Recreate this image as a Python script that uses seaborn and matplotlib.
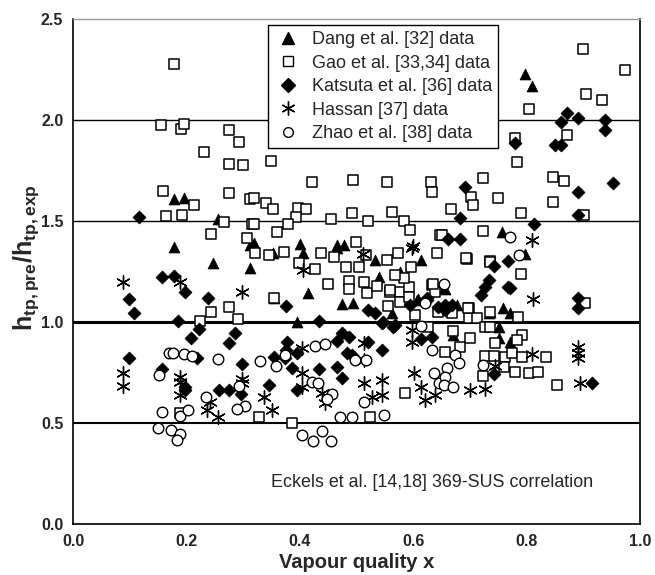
import numpy as np
import pandas as pd
import seaborn as sns
import matplotlib
matplotlib.use("Agg")
import matplotlib.pyplot as plt
from matplotlib.lines import Line2D

sns.set_style("white")
plt.rcParams['font.family'] = ['Liberation Sans', 'DejaVu Sans']
plt.rcParams['mathtext.fontset'] = 'custom'
plt.rcParams['mathtext.rm'] = 'Liberation Sans'
plt.rcParams['mathtext.bf'] = 'Liberation Sans:bold'

# ---------------- data ----------------
dang_x = [0.178, 0.196, 0.256, 0.178, 0.313, 0.320, 0.400, 0.466, 0.478, 0.797, 0.810, 0.757,
          0.247, 0.312, 0.539, 0.577, 0.613, 0.533, 0.414, 0.354, 0.474, 0.494, 0.608, 0.563,
          0.395, 0.798, 0.654, 0.677, 0.733, 0.758, 0.771, 0.671, 0.751, 0.751, 0.771, 0.656,
          0.735, 0.606, 0.353, 0.406, 0.465]
dang_y = [1.610, 1.615, 1.510, 1.370, 1.380, 1.390, 1.385, 1.380, 1.380, 2.230, 2.170, 1.447,
          1.294, 1.267, 1.225, 1.249, 1.307, 1.307, 1.142, 1.117, 1.088, 1.093, 1.114, 1.043,
          1.000, 1.337, 1.170, 1.084, 1.043, 1.068, 1.043, 0.936, 0.974, 0.919, 0.902, 1.162,
          1.051, 1.109, 1.340, 1.340, 1.365]

gao_x = [0.178, 0.156, 0.190, 0.195, 0.275, 0.292, 0.231, 0.275, 0.300, 0.159, 0.275, 0.313,
         0.214, 0.164, 0.192, 0.267, 0.316, 0.243, 0.306,
         0.349, 0.422, 0.493, 0.553, 0.631, 0.633, 0.320, 0.340, 0.352, 0.397, 0.411, 0.394,
         0.379, 0.320, 0.359, 0.455, 0.492, 0.521, 0.563, 0.584, 0.595, 0.648, 0.499,
         0.900, 0.974, 0.905, 0.933, 0.805, 0.871, 0.780, 0.784, 0.724, 0.847, 0.866, 0.702,
         0.705, 0.750, 0.847, 0.666, 0.791, 0.902, 0.724, 0.650,
         0.243, 0.275, 0.291, 0.224, 0.188,
         0.346, 0.373, 0.438, 0.460, 0.482, 0.504, 0.516, 0.554, 0.574, 0.597, 0.642, 0.398,
         0.427, 0.450, 0.487, 0.487, 0.513, 0.518, 0.536, 0.560, 0.577, 0.577, 0.593, 0.593,
         0.633, 0.639, 0.584, 0.354, 0.556, 0.604, 0.626,
         0.328, 0.387, 0.524, 0.585,
         0.695, 0.736, 0.790, 0.903, 0.668, 0.698, 0.698, 0.712, 0.736, 0.785, 0.726, 0.736,
         0.792, 0.783, 0.700, 0.683, 0.657, 0.671, 0.745, 0.727, 0.743, 0.762, 0.774, 0.792,
         0.834, 0.760, 0.780, 0.805, 0.821, 0.724, 0.854, 0.635, 0.694, 0.735, 0.568, 0.559,
         0.697, 0.644, 0.321]
gao_y = [2.280, 1.975, 1.955, 1.980, 1.950, 1.890, 1.840, 1.785, 1.780, 1.650, 1.637, 1.610,
         1.578, 1.523, 1.530, 1.494, 1.485, 1.436, 1.414,
         1.800, 1.696, 1.703, 1.696, 1.693, 1.644, 1.614, 1.590, 1.558, 1.566, 1.558, 1.521,
         1.485, 1.487, 1.447, 1.508, 1.541, 1.498, 1.546, 1.500, 1.455, 1.430, 1.398,
         2.350, 2.250, 2.130, 2.100, 2.056, 1.928, 1.910, 1.792, 1.711, 1.720, 1.698, 1.620,
         1.578, 1.615, 1.596, 1.561, 1.538, 1.530, 1.449, 1.430,
         1.050, 1.076, 1.015, 1.005, 0.550,
         1.332, 1.348, 1.343, 1.323, 1.274, 1.274, 1.332, 1.307, 1.340, 1.274, 1.340, 1.290,
         1.265, 1.190, 1.205, 1.162, 1.200, 1.145, 1.178, 1.150, 1.150, 1.100, 1.175, 1.126,
         1.183, 1.150, 1.216, 1.117, 1.080, 1.035, 0.977,
         0.531, 0.500, 0.531, 0.647,
         1.312, 1.300, 1.238, 1.096, 1.043, 1.068, 1.019, 1.019, 1.051, 1.026, 0.974, 0.974,
         0.936, 0.911, 0.919, 0.878, 0.853, 0.955, 0.895, 0.832, 0.832, 0.828, 0.845, 0.828,
         0.828, 0.779, 0.754, 0.746, 0.754, 0.733, 0.688, 1.190, 1.315, 1.298, 1.233, 1.158,
         1.068, 1.051, 1.340]

kat_x = [0.117, 0.872, 0.860, 0.890, 0.939, 0.939, 0.780, 0.850, 0.860, 0.692, 0.890, 0.952,
         0.682, 0.890, 0.813, 0.661, 0.682,
         0.157, 0.178, 0.197, 0.098, 0.238, 0.107, 0.186, 0.223, 0.285, 0.275, 0.208, 0.098,
         0.218, 0.157, 0.197, 0.197, 0.298, 0.257, 0.276, 0.296,
         0.376, 0.521, 0.533, 0.433, 0.545, 0.564, 0.613, 0.633, 0.624,
         0.474, 0.486, 0.466, 0.521, 0.545, 0.483, 0.492, 0.377, 0.376, 0.395, 0.354, 0.374,
         0.386, 0.433, 0.466, 0.474, 0.345, 0.395,
         0.742, 0.768, 0.733, 0.727, 0.720, 0.771, 0.890, 0.890, 0.657, 0.742, 0.915,
         0.625, 0.644, 0.656, 0.668, 0.594, 0.547, 0.568, 0.768]
kat_y = [1.518, 2.033, 1.990, 2.010, 2.003, 1.950, 1.885, 1.876, 1.876, 1.670, 1.645, 1.687,
         1.516, 1.530, 1.485, 1.412, 1.412,
         1.224, 1.229, 1.147, 1.114, 1.120, 1.043, 1.006, 0.967, 0.947, 0.898, 0.919, 0.823,
         0.823, 0.767, 0.680, 0.663, 0.790, 0.663, 0.663, 0.644,
         1.081, 1.062, 1.043, 1.006, 0.994, 0.974, 0.914, 0.924, 1.117,
         0.947, 0.924, 0.907, 0.902, 0.861, 0.845, 0.837, 0.902, 0.861, 0.845, 0.825, 0.820,
         0.771, 0.766, 0.779, 0.724, 0.688, 0.663,
         1.277, 1.300, 1.208, 1.175, 1.134, 1.167, 1.117, 1.068, 1.084, 0.743, 0.700,
         1.109, 1.076, 1.060, 1.084, 1.084, 1.000, 0.985, 1.175]

has_x = [0.600, 0.810, 0.088, 0.188, 0.298, 0.088, 0.088, 0.188, 0.188, 0.188, 0.298, 0.298,
         0.242, 0.236, 0.256,
         0.405, 0.598, 0.598, 0.404, 0.513, 0.513, 0.404, 0.404, 0.336, 0.351, 0.439, 0.445,
         0.513, 0.545, 0.545, 0.527, 0.601, 0.613, 0.621, 0.638,
         0.811, 0.700, 0.727, 0.810, 0.890, 0.890, 0.890, 0.895, 0.745, 0.598, 0.512]
has_y = [1.378, 1.406, 1.196, 1.200, 1.150, 0.749, 0.683, 0.729, 0.705, 0.639, 0.720, 0.697,
         0.605, 0.564, 0.531,
         1.257, 0.960, 0.902, 0.870, 0.895, 0.812, 0.749, 0.677, 0.630, 0.564, 0.647, 0.597,
         0.700, 0.713, 0.639, 0.630, 0.749, 0.680, 0.614, 0.639,
         1.112, 0.663, 0.667, 0.842, 0.878, 0.845, 0.820, 0.697, 0.780, 1.365, 1.335]

zhao_x = [0.770, 0.170, 0.176, 0.195, 0.209, 0.255, 0.151, 0.292, 0.235, 0.157, 0.189, 0.202,
          0.304, 0.289, 0.150, 0.173, 0.188, 0.183,
          0.621, 0.613, 0.633, 0.427, 0.444, 0.329, 0.358, 0.498, 0.516, 0.421, 0.432, 0.457,
          0.448, 0.513, 0.471, 0.492, 0.548, 0.404, 0.423, 0.440, 0.455, 0.636, 0.645,
          0.786, 0.654, 0.674, 0.680, 0.724, 0.660, 0.657, 0.654, 0.671, 0.374]
zhao_y = [1.420, 0.848, 0.848, 0.840, 0.833, 0.815, 0.738, 0.685, 0.630, 0.556, 0.535, 0.564,
          0.585, 0.569, 0.474, 0.465, 0.444, 0.416,
          1.096, 0.980, 0.861, 0.881, 0.891, 0.808, 0.782, 0.812, 0.812, 0.704, 0.700, 0.644,
          0.617, 0.605, 0.531, 0.531, 0.540, 0.440, 0.412, 0.462, 0.412, 0.746, 0.700,
          1.332, 1.190, 0.837, 0.795, 0.787, 0.771, 0.729, 0.688, 0.680, 0.837]

labels = ["Dang et al. [32] data", "Gao et al. [33,34] data", "Katsuta et al. [36] data",
          "Hassan [37] data", "Zhao et al. [38] data"]
x_ticks = [0.0, 0.2, 0.4, 0.6, 0.8, 1.0]
y_ticks = [0.0, 0.5, 1.0, 1.5, 2.0, 2.5]

# ---------------- figure ----------------
fig = plt.figure(figsize=(6.55, 5.75), dpi=100)
ax = fig.add_axes([0.1115, 0.0887, 0.8655, 0.878])

# reference lines
ax.axhline(1.0, color='black', lw=2.2, zorder=1)
ax.axhline(0.5, color='black', lw=1.5, zorder=1)
ax.axhline(1.5, color='black', lw=1.0, zorder=1)
ax.axhline(2.0, color='black', lw=1.0, zorder=1)

star = (6, 2, 0)
series = [
    (dang_x, dang_y, dict(marker='^', s=62, color='black', edgecolor='black', linewidth=0.5)),
    (gao_x, gao_y, dict(marker='s', s=55, facecolor='white', edgecolor='black', linewidth=1.1)),
    (kat_x, kat_y, dict(marker='D', s=44, color='black', edgecolor='black', linewidth=0.5)),
    (has_x, has_y, dict(marker=star, s=95, color='black', linewidth=1.0)),
    (zhao_x, zhao_y, dict(marker='o', s=58, facecolor='white', edgecolor='black', linewidth=1.0)),
]
for (xs, ys, kw), lab in zip(series, labels):
    df = pd.DataFrame({'x': xs, 'y': ys})
    sns.scatterplot(data=df, x='x', y='y', ax=ax, zorder=3, legend=False, **kw)

ax.set_xlim(0, 1.0)
ax.set_ylim(0, 2.5)
ax.set_xticks(x_ticks)
ax.set_yticks(y_ticks)
ax.set_xticklabels([f"{v:.1f}" for v in x_ticks], fontweight='bold', fontsize=11.5)
ax.set_yticklabels([f"{v:.1f}" for v in y_ticks], fontweight='bold', fontsize=11.5)
ax.tick_params(axis='both', direction='out', length=5, width=1, color='black', pad=2)

for side in ['left', 'bottom', 'right']:
    ax.spines[side].set_color('black')
    ax.spines[side].set_linewidth(1.2)
ax.spines['top'].set_color('#999999')
ax.spines['top'].set_linewidth(1.0)

ax.set_xlabel("Vapour quality x", fontsize=14.5, fontweight='bold', labelpad=3)
ax.set_ylabel(r"$\mathbf{h_{tp,pre}/h_{tp,exp}}$", fontsize=18)
ax.yaxis.set_label_coords(-0.057, 0.527)

ax.text(0.35, 0.207, "Eckels et al. [14,18] 369-SUS correlation", fontsize=12.9,
        transform=ax.transData, va='center', ha='left')

handles = [
    Line2D([], [], ls='none', marker='^', ms=9, color='black'),
    Line2D([], [], ls='none', marker='s', ms=7, mfc='white', mec='black', mew=1.0),
    Line2D([], [], ls='none', marker='D', ms=7, color='black'),
    Line2D([], [], ls='none', marker=star, ms=10, color='black', mew=1.0),
    Line2D([], [], ls='none', marker='o', ms=7, mfc='white', mec='black', mew=1.0),
]
leg = ax.legend(handles, labels, loc='upper left', bbox_to_anchor=(0.344, 0.988),
                frameon=True, fancybox=False, edgecolor='black', framealpha=1,
                fontsize=13, borderaxespad=0, handletextpad=0.62, labelspacing=0.36,
                borderpad=0.33, handlelength=1.5)
leg.get_frame().set_linewidth(1.0)

fig.savefig("out.png", dpi=100)
